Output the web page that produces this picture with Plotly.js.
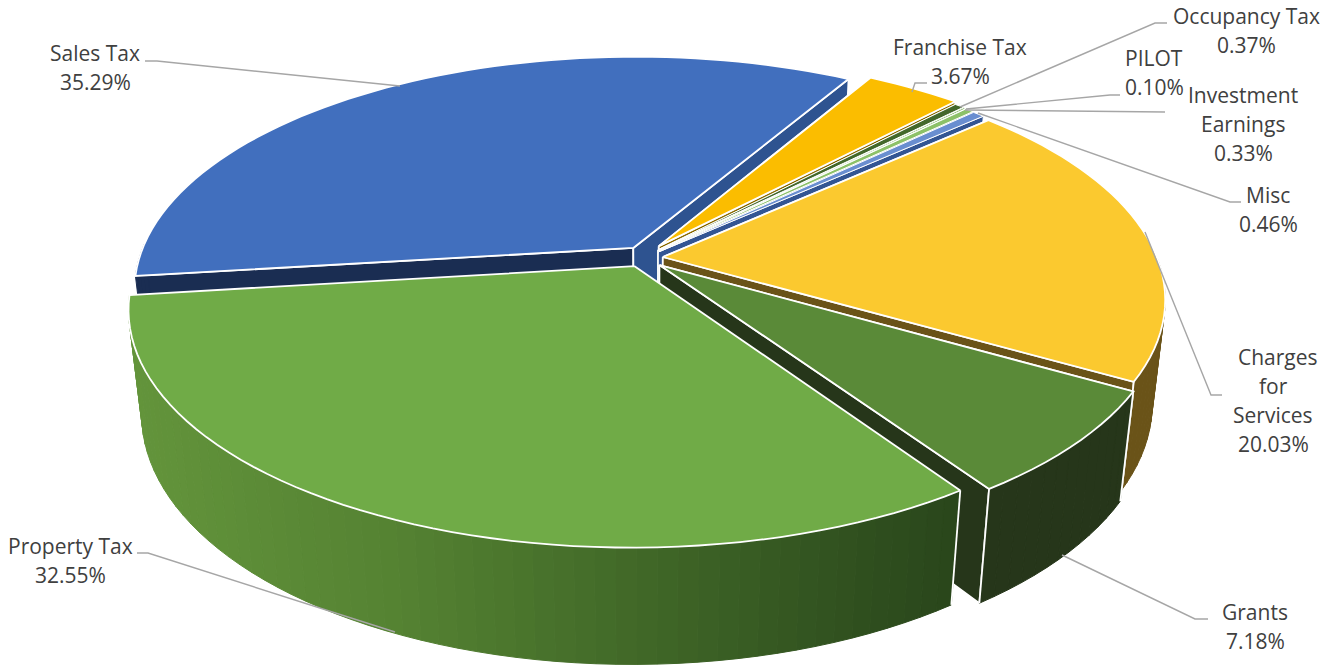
<!DOCTYPE html>
<html>
<head>
<meta charset="utf-8">
<script src="https://cdn.plot.ly/plotly-3.0.1.min.js"></script>
<style>html,body{margin:0;padding:0;background:#fff}#chart{width:1339px;height:666px}</style>
</head>
<body>
<div id="chart"></div>
<script>
// Revenue sources, clockwise from the Sales Tax slice
const categories = ["Sales Tax","Franchise Tax","Occupancy Tax","PILOT","Investment Earnings","Misc","Charges for Services","Grants","Property Tax"];
const shares = [35.29,3.67,0.37,0.10,0.33,0.46,20.03,7.18,32.55];

const topColors  = ["#416fbe","#fbbd00","#43682b","#7fb55c","#8cc168","#698ed0","#fbc92f","#5a8a38","#70ab47"];
const sideColors = ["#1a2d52","#8a6a00","#2f4a1e","#4f7a35","#4f7a35","#335593","#6a5318","#26361a","#2a4a1c"];
const endColors  = ["#2e5390","#8a6a00","#2f4a1e","#4f7a35","#4f7a35","#335593","#6a5318","#26361a","#2a4a1c"];
// Sideways and depth offset of each slice on the pie's plane
const pullX = [-0.030,0.022,0.020,0.020,0.020,0.021,0.030,0.023,-0.027];
const pullY = [0.040,0.048,0.031,0.028,0.026,0.022,0.000,-0.035,-0.040];
const startAngle = 263;

// Perspective camera: plane coordinates and drop below the top face to page pixels
const cam = {cx:648, cy:257, a:494, b:228, k:0.177, drop:105.5, far:0.025};
function project(px, py, low) {
  const w = 1 + cam.k*py + (low ? cam.far : 0);
  return [cam.cx + cam.a*px/w, cam.cy + (-cam.b*py + (low ? cam.drop : 0))/w];
}
const rad = d => d*Math.PI/180;
const rim = (i,deg,low) => project(Math.sin(rad(deg))+pullX[i], Math.cos(rad(deg))+pullY[i], low);
const hub = (i,low) => project(pullX[i], pullY[i], low);

const traces = [];
function poly(pts, fill, edge, width) {
  traces.push({
    x: pts.map(p=>p[0]), y: pts.map(p=>p[1]),
    type:"scatter", mode:"lines", fill:"toself", fillcolor:fill,
    line:{color:edge, width:width, simplify:false}, hoverinfo:"skip", showlegend:false
  });
}
function stroke(pts, color, width) {
  traces.push({
    x: pts.map(p=>p[0]), y: pts.map(p=>p[1]),
    type:"scatter", mode:"lines", line:{color:color, width:width, simplify:false},
    hoverinfo:"skip", showlegend:false
  });
}

// Shading along the Property Tax outer wall, read left to right across the page
const wallStops = [[130,[99,148,59]],[400,[84,130,50]],[620,[66,106,40]],[800,[52,86,33]],[960,[41,70,27]]];
function wallShade(x) {
  const s = wallStops;
  if (x <= s[0][0]) return `rgb(${s[0][1]})`;
  for (let j=1;j<s.length;j++) if (x <= s[j][0]) {
    const t = (x-s[j-1][0])/(s[j][0]-s[j-1][0]);
    return "rgb("+s[j][1].map((v,n)=>Math.round(s[j-1][1][n]+(v-s[j-1][1][n])*t)).join(",")+")";
  }
  return `rgb(${s[s.length-1][1]})`;
}

// Slices are painted back to front so nearer ones cover the walls behind them
const total = shares.reduce((a,b)=>a+b,0);
let cursor = startAngle;
const PROPERTY = categories.indexOf("Property Tax");
categories.forEach((name,i)=>{
  const from = cursor, to = cursor + shares[i]/total*360;
  cursor = to;
  const edge = shares[i] < 1 ? 1 : 1.8;
  const steps = Math.max(2, Math.ceil((to-from)/2));
  const arc = [];
  for (let s=0;s<=steps;s++) arc.push(from+(to-from)*s/steps);

  // Cut faces; the nearest slice's own cuts turn away from the viewer
  if (i !== PROPERTY) {
    [[from,sideColors[i]],[to,endColors[i]]].forEach(([deg,col])=>{
      poly([hub(i,false),rim(i,deg,false),rim(i,deg,true),hub(i,true),hub(i,false)], col, "#ffffff", edge);
    });
  }

  // Outer wall, only where it turns toward the viewer
  for (let s=0;s<steps;s++) {
    const d0 = arc[s], d1 = arc[s+1];
    if (Math.cos(rad((d0+d1)/2)) > 0) continue;
    const q = [rim(i,d0,false),rim(i,d1,false),rim(i,d1,true),rim(i,d0,true)];
    q.push(q[0]);
    const col = i===PROPERTY ? wallShade((q[0][0]+q[1][0])/2) : sideColors[i];
    poly(q, col, col, 1);
  }
  // White seams at the ends of the visible outer walls
  if (i > 0 && i !== PROPERTY && Math.cos(rad(to)) < 0.2) stroke([rim(i,to,false),rim(i,to,true)], "#ffffff", edge);
  if (i > 0 && Math.cos(rad(from)) < 0.2) stroke([rim(i,from,false),rim(i,from,true)], "#ffffff", edge);

  // Top face
  const face = [hub(i,false)].concat(arc.map(d=>rim(i,d,false))); face.push(hub(i,false));
  poly(face, topColors[i], "#ffffff", edge);
});

// Leader lines from the labels to their slices
const leaders = [
  [[145,61],[157,61],[400,86]],
  [[927,83],[915,83],[912,92]],
  [[1167,23],[1155,23],[960,107]],
  [[1120,95],[1110,95],[966,109]],
  [[1165,112],[965,110]],
  [[1241,202],[1230,202],[978,113]],
  [[1222,395],[1211,395],[1145,232]],
  [[1208,619],[1195,619],[1062,555]],
  [[137,553],[148,553],[395,632]]
];
leaders.forEach(l=>stroke(l,"#a6a6a6",1.4));

// Label text: wrapped category name, then its share
const wrapped = [["Sales Tax"],["Franchise Tax"],["Occupancy Tax"],["PILOT"],["Investment","Earnings"],["Misc"],["Charges","for","Services"],["Grants"],["Property Tax"]];
const labelX = [95,960,1246,1154,1243,1268,1273,1255,70];
const labelY = [53,47,16,58,95,195,357,612,546];
const lineGap = 29;
const annotations = [];
function addText(x,y,t){
  annotations.push({x:x,y:y,text:t,xref:"x",yref:"y",showarrow:false,xanchor:"center",yanchor:"middle",
    font:{family:"Open Sans, sans-serif",size:21,color:"#404040"}});
}
wrapped.forEach((lines,i)=>{
  lines.forEach((t,n)=>addText(labelX[i]+(t==="Charges"?5:0),labelY[i]+n*lineGap,t));
  addText(labelX[i],labelY[i]+lines.length*lineGap,shares[i].toFixed(2)+"%");
});

const layout = {
  width:1339, height:666, margin:{l:0,r:0,t:0,b:0},
  paper_bgcolor:"#ffffff", plot_bgcolor:"#ffffff", showlegend:false,
  xaxis:{range:[0,1339],visible:false,fixedrange:true},
  yaxis:{range:[666,0],visible:false,fixedrange:true},
  annotations:annotations
};
Plotly.newPlot("chart",traces,layout,{displayModeBar:false,staticPlot:true});
</script>
</body>
</html>
